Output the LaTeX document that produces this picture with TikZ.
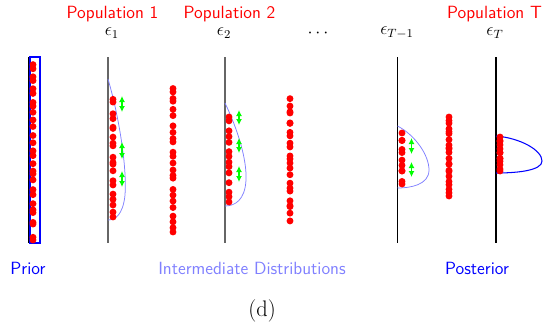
\documentclass[tikz,border=0pt]{standalone}
\usetikzlibrary{arrows.meta}
\begin{document}
\begin{tikzpicture}[x=0.667pt,y=-0.667pt,
  lbl/.style={font=\fontsize{11.8}{14}\selectfont\sffamily, inner sep=0pt},
  poplbl/.style={lbl, text=red},
  dot/.style={fill=red, draw=none},
  vline/.style={line width=1.2pt, black!60},
  dens/.style={blue!50, line width=0.5pt},
  shiftarrow/.style={green, line width=0.8pt, {Latex[length=4pt,width=4pt]}-{Latex[length=4pt,width=4pt]}}]
\useasboundingbox (0,0) rectangle (543,325);
% labels
\node[poplbl] (p1) at (112.5,14) {Population 1};
\node[poplbl] (p2) at (229.5,14) {Population 2};
\node[poplbl] (pT) at (494.5,14) {Population T};
\node[lbl] (e1) at (112,33) {$\epsilon_1$};
\node[lbl] (e2) at (224,33) {$\epsilon_2$};
\node[lbl] (edots) at (318,33) {$\cdots$};
\node[lbl] (eT1) at (397,33) {$\epsilon_{T-1}$};
\node[lbl] (eT) at (495,33) {$\epsilon_T$};
\node[lbl, text=blue] (prior) at (28,268) {Prior};
\node[lbl, text=blue!50] (inter) at (252,268) {Intermediate Distributions};
\node[lbl, text=blue] (post) at (477,268) {Posterior};
\node[inner sep=0pt, font=\fontsize{15}{18}\selectfont] (cap) at (262,311) {(d)};
% vertical lines
\draw[line width=1.6pt, black] (29,57) -- (29,243);
\draw[vline] (108,57) -- (108,243);
\draw[vline] (225,57) -- (225,243);
\draw[line width=0.8pt, black] (397.5,57) -- (397.5,243);
\draw[line width=1.6pt, black] (496,57) -- (496,243);
% prior box
\draw[blue, line width=0.8pt] (30,57) rectangle (40,243);
% densities
\draw[dens] (108,79) .. controls (120,120) and (127,170) .. (125,195) .. controls (123,215) and (115,220) .. (108,220);
\draw[dens] (225,103) .. controls (238,130) and (247,160) .. (246,180) .. controls (245,200) and (235,206) .. (225,206);
\draw[dens] (397.5,126) .. controls (415,135) and (429,155) .. (429,170) .. controls (429,185) and (410,188) .. (397.5,188);
\draw[blue, line width=0.7pt] (496,136) .. controls (520,138) and (542,150) .. (542,161) .. controls (542,170) and (520,173) .. (496,173);
% dots
\pgfmathsetseed{11}
\foreach \cx/\ya/\yb/\n in {33/62/240/28, 113/99/217/20, 173/85/232/24, 229/117/202/14, 290/98/221/23, 402/133/184/11, 449/117/196/22, 500/137/171/13}{
  \pgfmathsetmacro{\step}{(\yb-\ya)/(\n-1)}
  \foreach \k in {1,...,\n}{
    \pgfmathsetmacro{\yy}{\ya+(\k-1)*\step+0.6*\step*rand}
    \pgfmathsetmacro{\yc}{min(max(\yy,\ya),\yb)}
    \fill[dot] (\cx,\yc) circle (2.3pt);
  }
}
% shift arrows
\foreach \cx/\ya/\yb in {122/96/112, 122/142/159, 122/171/187, 239/110/125, 239/138/153, 239/166/182, 411.5/138/154, 411.5/162/177}{
  \draw[shiftarrow] (\cx,\ya) -- (\cx,\yb);
}
\end{tikzpicture}
\end{document}
